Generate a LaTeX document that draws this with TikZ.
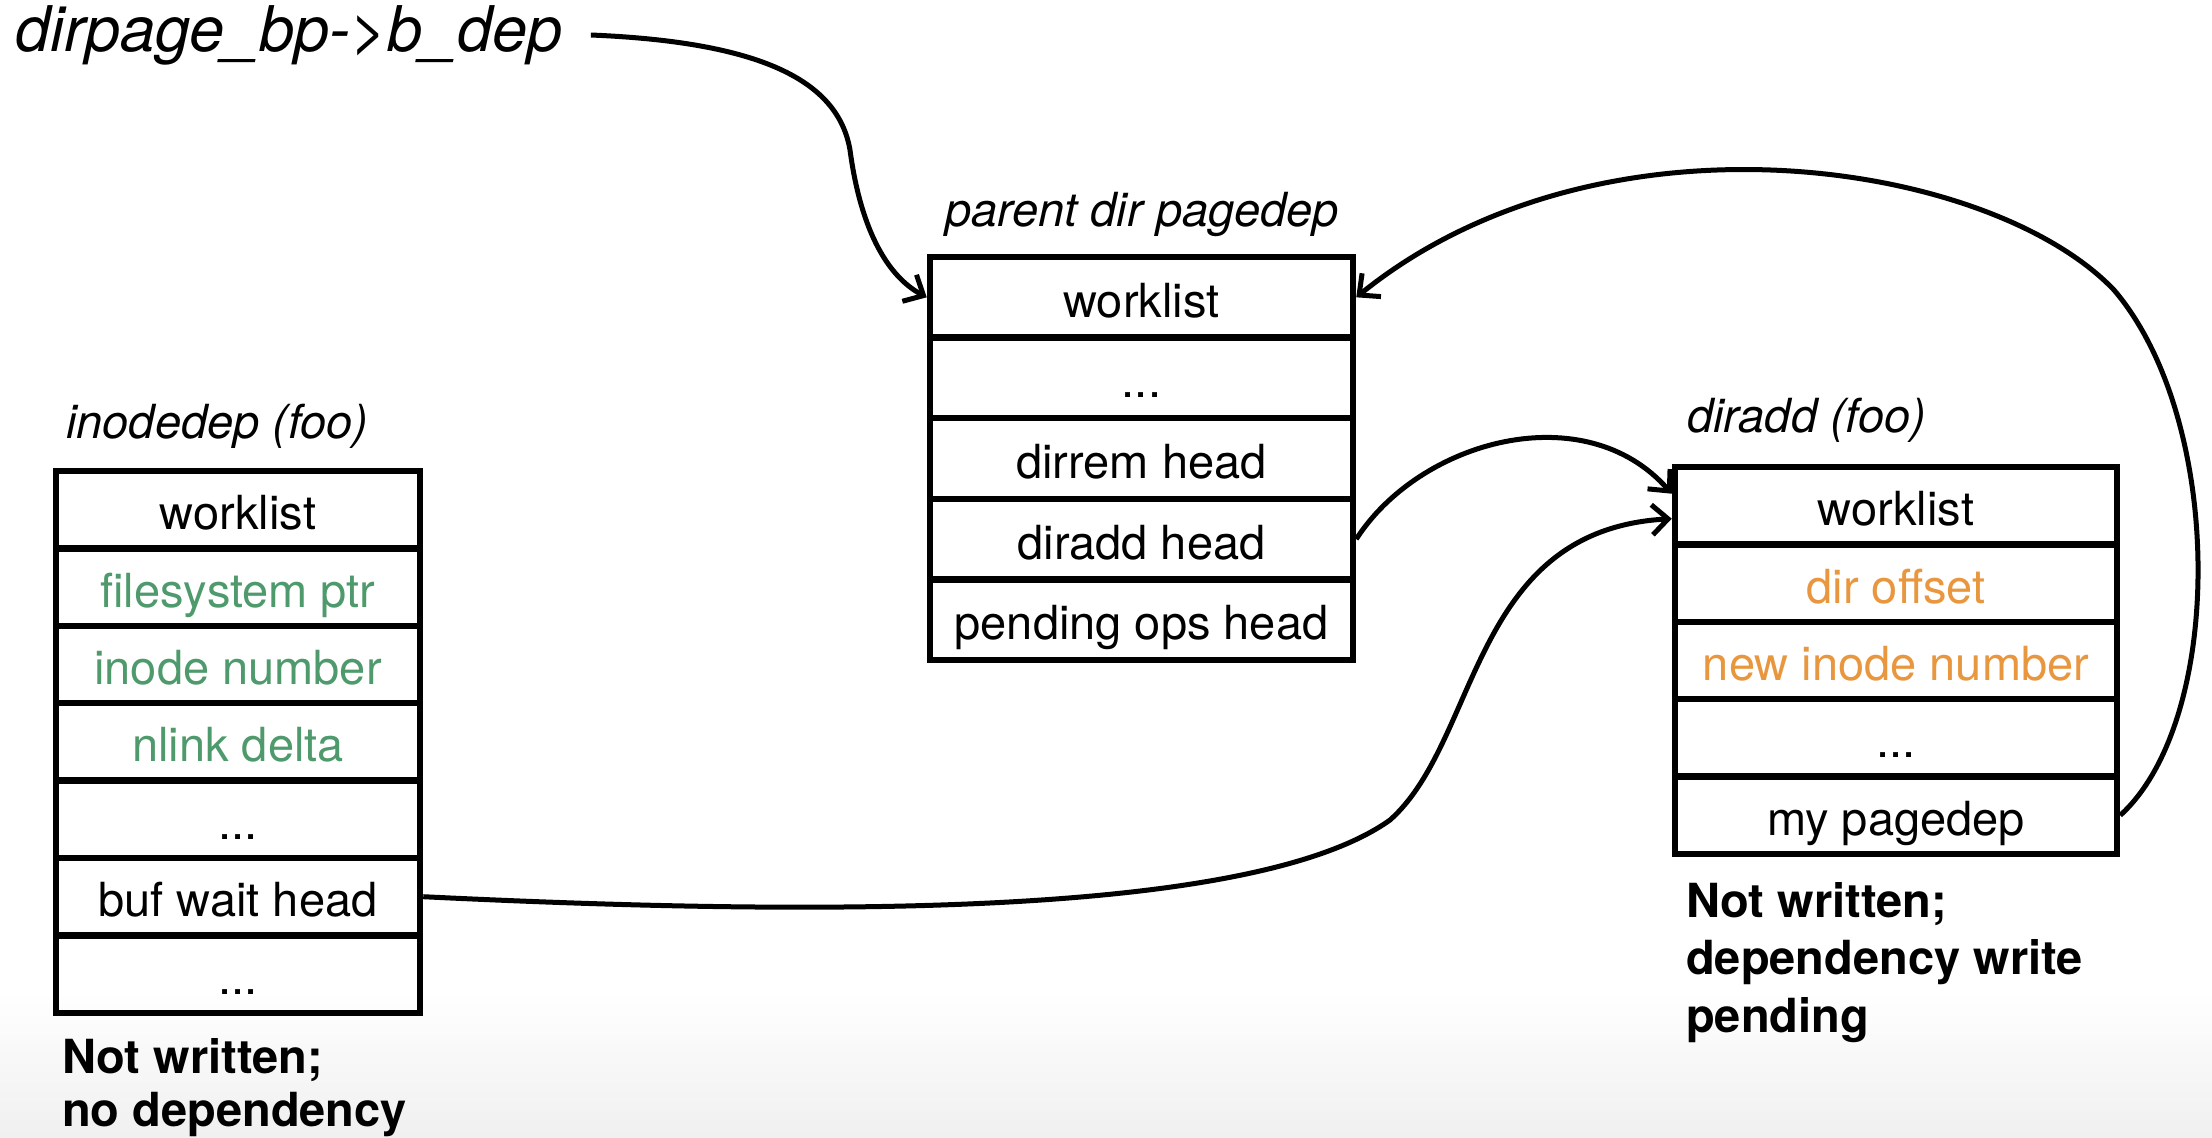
\documentclass[tikz,border=0pt]{standalone}
\usepackage{fontspec}
\setmainfont{TeX Gyre Heros}
\usetikzlibrary{arrows.meta}
\definecolor{fgreen}{HTML}{4F9A6C}
\definecolor{forange}{HTML}{E9973F}
\begin{document}
\begin{tikzpicture}[x=1pt,y=-1pt,
  cell/.style={draw, line width=6.5pt, inner sep=0pt,
    font=\fontsize{47}{56}\selectfont, text height=40pt, text depth=0pt},
  pdcell/.style={cell, minimum width=423pt, minimum height=80.6pt},
  incell/.style={cell, minimum width=364pt, minimum height=77.4pt},
  dacell/.style={cell, minimum width=442pt, minimum height=77.4pt},
  title/.style={inner sep=0pt, font=\fontsize{47}{56}\selectfont\itshape},
  note/.style={inner sep=0pt, align=left, font=\fontsize{47}{57.5}\selectfont\bfseries},
  conn/.style={line width=5pt, -{Straight Barb[length=16pt,width=30pt]}},
]
\useasboundingbox (0,0) rectangle (2212,1138);
\fill[white] (0,0) rectangle (2212,1138);
\shade[top color=white, bottom color=black!6] (0,990) rectangle (2212,1138);

% top label
\node[inner sep=0pt, anchor=west, font=\fontsize{63}{70}\selectfont\itshape] (dp) at (15,35) {dirpage\_bp->b\_dep};

% parent dir pagedep
\node[title, anchor=west] (pdT) at (945,214) {parent dir pagedep};
\node[pdcell] (pdW) at (1141.5,297.3) {worklist};
\node[pdcell] (pdE) at (1141.5,377.9) {...};
\node[pdcell] (pdR) at (1141.5,458.5) {dirrem head};
\node[pdcell] (pdA) at (1141.5,539.1) {diradd head};
\node[pdcell] (pdP) at (1141.5,619.7) {pending ops head};

% inodedep
\node[title, anchor=west] (inT) at (66,426) {inodedep (foo)};
\node[incell] (inW) at (238,509.7) {worklist};
\node[incell, text=fgreen] (inF) at (238,587.1) {filesystem ptr};
\node[incell, text=fgreen] (inI) at (238,664.5) {inode number};
\node[incell, text=fgreen] (inN) at (238,741.9) {nlink delta};
\node[incell] (inE) at (238,819.3) {...};
\node[incell] (inB) at (238,896.7) {buf wait head};
\node[incell] (inE2) at (238,974.1) {...};
\node[note, anchor=base west, font=\fontsize{47}{53}\selectfont\bfseries] (inNote) at (62,1126) {Not written;\\no dependency};

% diradd
\node[title, anchor=west] (daT) at (1687,420) {diradd (foo)};
\node[dacell] (daW) at (1896,505.7) {worklist};
\node[dacell, text=forange] (daO) at (1896,583.1) {dir offset};
\node[dacell, text=forange] (daN) at (1896,660.5) {new inode number};
\node[dacell] (daE) at (1896,737.9) {...};
\node[dacell] (daM) at (1896,815.3) {my pagedep};
\node[note, anchor=base west] (daNote) at (1686,1032) {Not written;\\dependency write\\pending};

% connectors
\draw[conn] ([xshift=28pt]dp.east) .. controls (760,42) and (838,80) .. (850,150)
  .. controls (860,225) and (885,275) .. (pdW.west);
\draw[conn] (pdA.east) .. controls (1420,440) and (1585,395) .. ([yshift=12pt]daW.west);
\draw[conn] (inB.east) .. controls (800,915) and (1250,920) .. (1390,820)
  .. controls (1480,740) and (1470,530) .. ([yshift=-13pt]daW.west);
\draw[conn] (daM.east) .. controls (2225,720) and (2225,420) .. (2114,290)
  .. controls (1990,160) and (1600,100) .. (pdW.east);
\end{tikzpicture}
\end{document}
